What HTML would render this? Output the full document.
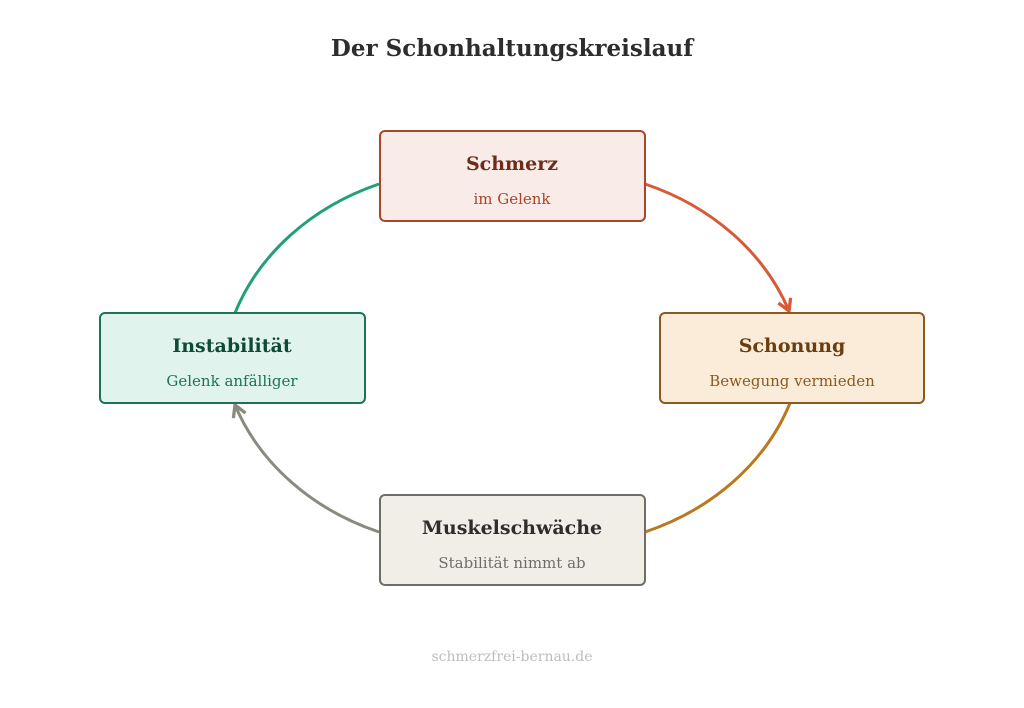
<!DOCTYPE html>
<html><head><meta charset="utf-8"><style>
body{margin:0;background:#fff}
svg{display:block}
text{font-family:"DejaVu Serif","Liberation Serif",serif;text-anchor:middle}
</style></head><body>
<svg width="1024" height="708" viewBox="0 0 1024 708">
<defs>
<marker id="ar" viewBox="0 0 10 10" refX="8" refY="5" markerWidth="5.5" markerHeight="5.5" orient="auto"><path d="M1,1 L8,5 L1,9" fill="none" stroke="#d95a36" stroke-width="2"/></marker>
<marker id="ag" viewBox="0 0 10 10" refX="8" refY="5" markerWidth="5.5" markerHeight="5.5" orient="auto"><path d="M1,1 L8,5 L1,9" fill="none" stroke="#8a8a80" stroke-width="2"/></marker>
</defs>
<text x="512" y="56" font-size="23" font-weight="bold" fill="#2d2d2d">Der Schonhaltungskreislauf</text>
<path d="M645,184 A250,215 0 0 1 789,311" fill="none" stroke="#d95a36" stroke-width="3" marker-end="url(#ar)"/>
<path d="M790,403 A250,215 0 0 1 645,532" fill="none" stroke="#b8791f" stroke-width="3"/>
<path d="M379,532 A250,215 0 0 1 235,405" fill="none" stroke="#8a8a80" stroke-width="3" marker-end="url(#ag)"/>
<path d="M235,313 A250,215 0 0 1 379,184" fill="none" stroke="#20a07a" stroke-width="3"/>
<rect x="380" y="131" width="265" height="90" rx="5" fill="#f9ece8" stroke="#a8452a" stroke-width="2"/>
<text x="512" y="170" font-size="19" font-weight="bold" fill="#6e2c18">Schmerz</text>
<text x="512" y="204" font-size="15" fill="#a8452a">im Gelenk</text>
<rect x="660" y="313" width="264" height="90" rx="5" fill="#fbecd9" stroke="#8a5a1e" stroke-width="2"/>
<text x="792" y="352" font-size="19" font-weight="bold" fill="#6a3e10">Schonung</text>
<text x="792" y="386" font-size="15" fill="#8a5a1e">Bewegung vermieden</text>
<rect x="100" y="313" width="265" height="90" rx="5" fill="#e1f3ed" stroke="#1a7458" stroke-width="2"/>
<text x="232" y="352" font-size="19" font-weight="bold" fill="#0e4a38">Instabilität</text>
<text x="232" y="386" font-size="15" fill="#1a7458">Gelenk anfälliger</text>
<rect x="380" y="495" width="265" height="90" rx="5" fill="#f1eee8" stroke="#6e6e68" stroke-width="2"/>
<text x="512" y="534" font-size="19" font-weight="bold" fill="#2d2d2d">Muskelschwäche</text>
<text x="512" y="568" font-size="15" fill="#6e6e68">Stabilität nimmt ab</text>
<text x="512" y="661" font-size="14" fill="#bdbdbd">schmerzfrei-bernau.de</text>
</svg>
</body></html>
